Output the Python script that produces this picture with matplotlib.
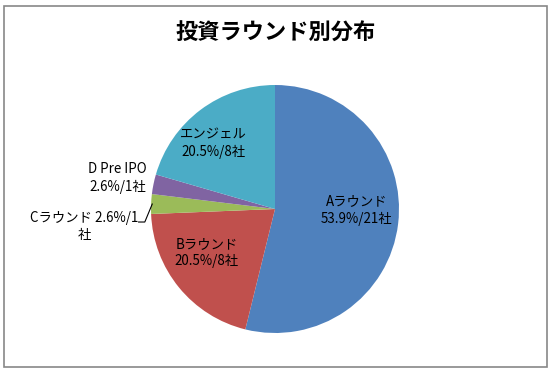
import matplotlib
matplotlib.use("Agg")
import matplotlib.pyplot as plt
from matplotlib import patches

plt.rcParams['font.family'] = ['Noto Sans CJK JP', 'DejaVu Sans']

# data
rounds = ["Aラウンド", "Bラウンド", "Cラウンド", "D Pre IPO", "エンジェル"]
companies = [21, 8, 1, 1, 8]
percents = ["53.9%", "20.5%", "2.6%", "2.6%", "20.5%"]
colors = ["#4F81BD", "#C0504D", "#9BBB59", "#8064A2", "#4BACC6"]

fig = plt.figure(figsize=(5.53, 3.71), dpi=100)
fig.patch.set_facecolor("white")

# outer chart frame
fig.add_artist(patches.Rectangle((4/553, 4/371), 543/553, 361/371,
                                 transform=fig.transFigure, fill=False,
                                 edgecolor="#878787", linewidth=1.2))

fig.text(276/553, 1 - 33/371, "投資ラウンド別分布", ha="center", va="center",
         fontsize=16, fontweight="bold")

r = 124
cx, cy = 275, 209
ax = fig.add_axes([(cx - r)/553, (371 - cy - r)/371, 2*r/553, 2*r/371])
ax.pie(companies, colors=colors, startangle=90, counterclock=False,
       radius=1.0, wedgeprops=dict(linewidth=0))
ax.set_xlim(-1, 1)
ax.set_ylim(-1, 1)
ax.set_aspect("auto")
ax.axis("off")

labels = [f"{n}\n{p}/{c}社" for n, p, c in zip(rounds, percents, companies)]

# label positions (data units)
pos = [(0.66, -0.01), (-0.55, -0.35), None, (-1.27, 0.25), (-0.5, 0.53)]
for i, lab in enumerate(labels):
    if pos[i] is None:
        continue
    ax.text(pos[i][0], pos[i][1], lab, ha="center", va="center",
            fontsize=9.6, linespacing=1.3, clip_on=False)

# C round: label outside with leader line
c_text = f"{rounds[2]} {percents[2]}/{companies[2]}\n社"
ax.text(-1.54, -0.14, c_text, ha="center", va="center", fontsize=9.6,
        linespacing=1.3, clip_on=False)
ax.plot([-1.1, -1.05, -0.99], [-0.105, -0.105, 0.04], color="black",
        linewidth=0.8, clip_on=False)

fig.savefig("out.png", dpi=100)
